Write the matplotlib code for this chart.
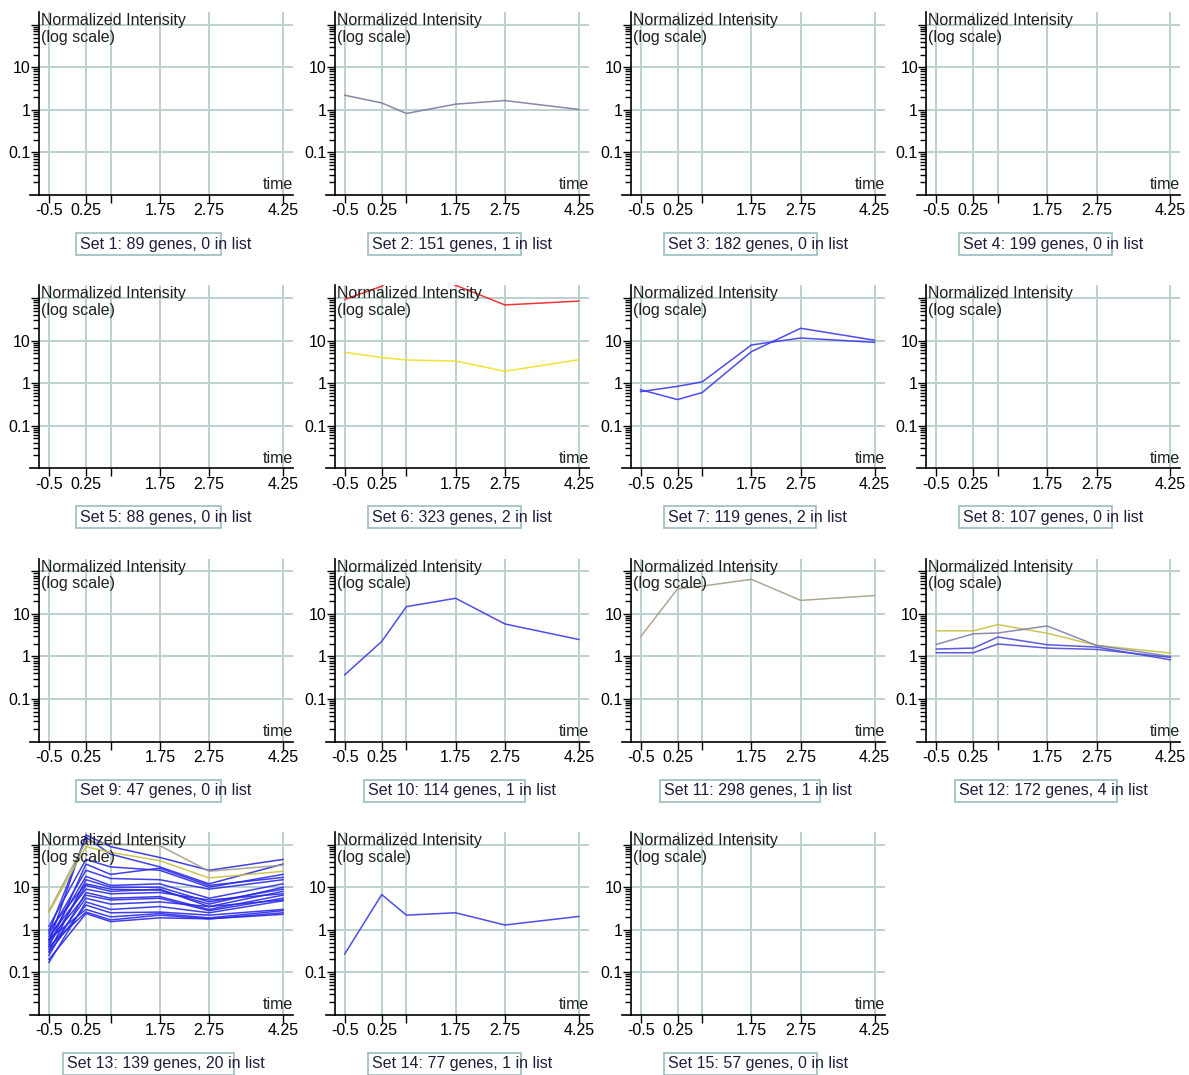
import numpy as np
import matplotlib
matplotlib.use("Agg")
import matplotlib.pyplot as plt
from matplotlib.patches import Rectangle
from matplotlib.ticker import FixedLocator, NullFormatter

plt.rcParams['font.family'] = ['Liberation Sans', 'DejaVu Sans']

# time points and labels
times = [-0.5, 0.25, 0.75, 1.75, 2.75, 4.25]
time_labels = ["-0.5", "0.25", "", "1.75", "2.75", "4.25"]

# set info
genes = [89, 151, 182, 199, 88, 323, 119, 107, 47, 114, 298, 172, 139, 77, 57]
in_list = [0, 1, 0, 0, 0, 2, 2, 0, 0, 1, 1, 4, 20, 1, 0]

# profiles per set
set2_values = [[2.2, 1.45, 0.82, 1.36, 1.65, 1.02]]
set2_colors = ["#7a7aa0"]

set6_values = [[93, 190, 600, 200, 69, 85],
               [5.3, 4.0, 3.5, 3.3, 1.9, 3.55]]
set6_colors = ["#f02020", "#f0e020"]

set7_values = [[0.70, 0.41, 0.60, 5.5, 19.5, 10.2],
               [0.63, 0.84, 1.07, 7.9, 11.5, 9.1]]
set7_colors = ["#3a3ae8", "#3a3ae8"]

set10_values = [[0.37, 2.25, 14.8, 23.3, 5.8, 2.5]]
set10_colors = ["#3a3ae8"]

set11_values = [[2.9, 39, 45, 65, 20.8, 27]]
set11_colors = ["#a0a088"]

set12_values = [[4.0, 4.0, 5.6, 3.5, 1.82, 1.2],
                [1.92, 3.4, 3.56, 5.2, 1.82, 1.0],
                [1.49, 1.57, 2.86, 1.88, 1.66, 0.83],
                [1.22, 1.22, 1.96, 1.57, 1.46, 0.95]]
set12_colors = ["#c8c040", "#8080a8", "#4a4ad8", "#4a4ad8"]

set13_values = [[0.5, 170, 90, 50, 25, 45],
                [0.9, 150, 60, 30, 12, 35],
                [1.2, 45, 30, 25, 10, 20],
                [0.4, 35, 20, 28, 11, 17],
                [0.8, 25, 16, 15, 9, 15],
                [0.6, 18, 11, 12, 5.5, 12],
                [0.3, 15, 10, 10, 4.5, 9],
                [1.0, 12, 9, 8.5, 4, 10],
                [0.45, 11, 8, 9, 3.5, 8],
                [0.7, 9, 7, 7.5, 5, 7],
                [0.25, 7.5, 5.5, 6, 3, 6.5],
                [0.55, 6.5, 5, 5.5, 2.8, 5.5],
                [0.35, 5.5, 4, 4.5, 3.5, 5],
                [0.17, 4.5, 3, 3.5, 2.5, 4.8],
                [0.3, 3.8, 2.5, 2.6, 2.2, 3],
                [0.6, 3, 2, 2.4, 1.9, 2.8],
                [0.4, 2.6, 1.7, 2.2, 1.8, 2.3],
                [0.2, 2.4, 1.55, 1.9, 1.8, 2.5],
                [2.8, 120, 105, 95, 23.7, 33],
                [2.6, 90, 66, 42, 16.5, 23.7]]
set13_colors = ["#2a2ae8"] * 18 + ["#a0a088", "#c8c040"]

set14_values = [[0.27, 6.7, 2.2, 2.5, 1.29, 2.05]]
set14_colors = ["#3a3ae8"]

profiles = {2: (set2_values, set2_colors), 6: (set6_values, set6_colors),
            7: (set7_values, set7_colors), 10: (set10_values, set10_colors),
            11: (set11_values, set11_colors), 12: (set12_values, set12_colors),
            13: (set13_values, set13_colors), 14: (set14_values, set14_colors)}

W, H = 1189, 1075
fig = plt.figure(figsize=(W / 100, H / 100), dpi=100)
fig.patch.set_facecolor("white")

grid_c = "#bcd0d0"
ax_left0, ax_w = 39, 254
ax_top0, ax_h = 12, 183
col_step, row_step = 295.8, 273.3

captions = []
for i in range(15):
    r, c = divmod(i, 4)
    left = ax_left0 + col_step * c
    top = ax_top0 + row_step * r
    ax = fig.add_axes([left / W, 1 - (top + ax_h) / H, ax_w / W, ax_h / H])
    ax.set_yscale("log")
    ax.set_xlim(-0.703, 4.453)
    ax.set_ylim(0.0099, 200)
    for s in ["top", "right"]:
        ax.spines[s].set_visible(False)
    for s in ["left", "bottom"]:
        ax.spines[s].set_linewidth(1.2)
    # grid
    for t in times:
        ax.axvline(t, color=grid_c, lw=1.4, zorder=0)
    for y in [0.1, 1, 10, 100]:
        ax.axhline(y, color=grid_c, lw=1.4, zorder=0)
    # ticks
    ax.set_xticks(times)
    ax.set_xticklabels(time_labels)
    ax.yaxis.set_major_locator(FixedLocator([0.1, 1, 10, 100]))
    ax.set_yticklabels(["0.1", "1", "10", ""])
    minors = [m * 10.0 ** e for e in range(-2, 3) for m in range(2, 10)]
    ax.yaxis.set_minor_locator(FixedLocator([v for v in minors if v < 200]))
    ax.yaxis.set_minor_formatter(NullFormatter())
    ax.tick_params(axis="both", which="major", labelsize=11.5, length=6, width=1)
    ax.tick_params(axis="x", which="major", pad=0)
    ax.tick_params(axis="y", which="minor", length=4, width=1)
    ax.tick_params(axis="y", which="major", pad=0)
    # extend the x axis line a bit left of the y axis
    ax.plot([-9 / ax_w, 0], [0, 0], transform=ax.transAxes, color="black",
            lw=1.2, clip_on=False)

    ax.text(0.008, 0.995, "Normalized Intensity\n(log scale)", transform=ax.transAxes,
            ha="left", va="top", fontsize=11.5, color="#202020", linespacing=1.15)
    ax.text(1.0, 0.015, "time", transform=ax.transAxes, ha="right", va="bottom",
            fontsize=11.5, color="#202020")

    n = i + 1
    if n in profiles:
        vals, cols = profiles[n]
        for v, col in zip(vals, cols):
            ax.plot(times, v, color=col, lw=1.1, alpha=0.9)

    label = "Set %d: %d genes, %d in list" % (n, genes[i], in_list[i])
    cx = left + ax_w / 2
    cy = top + ax_h + 49
    captions.append((label, cx, cy))

renderer = fig.canvas.get_renderer()
for label, cx, cy in captions:
    t = fig.text(cx / W, 1 - cy / H, label, ha="center", va="center",
                 fontsize=11.5, color="#1e1e3c")
    bb = t.get_window_extent(renderer)
    prefix = label[:label.index(" in list") + 2]
    p = fig.text(0, 0, prefix, fontsize=11.5)
    pw = p.get_window_extent(renderer).width
    p.remove()
    x0 = bb.x0 - 4
    rect = Rectangle((x0 / W, 1 - (cy + 11) / H), (pw + 6) / W, 22 / H,
                     transform=fig.transFigure, fill=False, ec="#9cbcbc", lw=1.2)
    fig.add_artist(rect)

fig.savefig("out.png", dpi=100)
